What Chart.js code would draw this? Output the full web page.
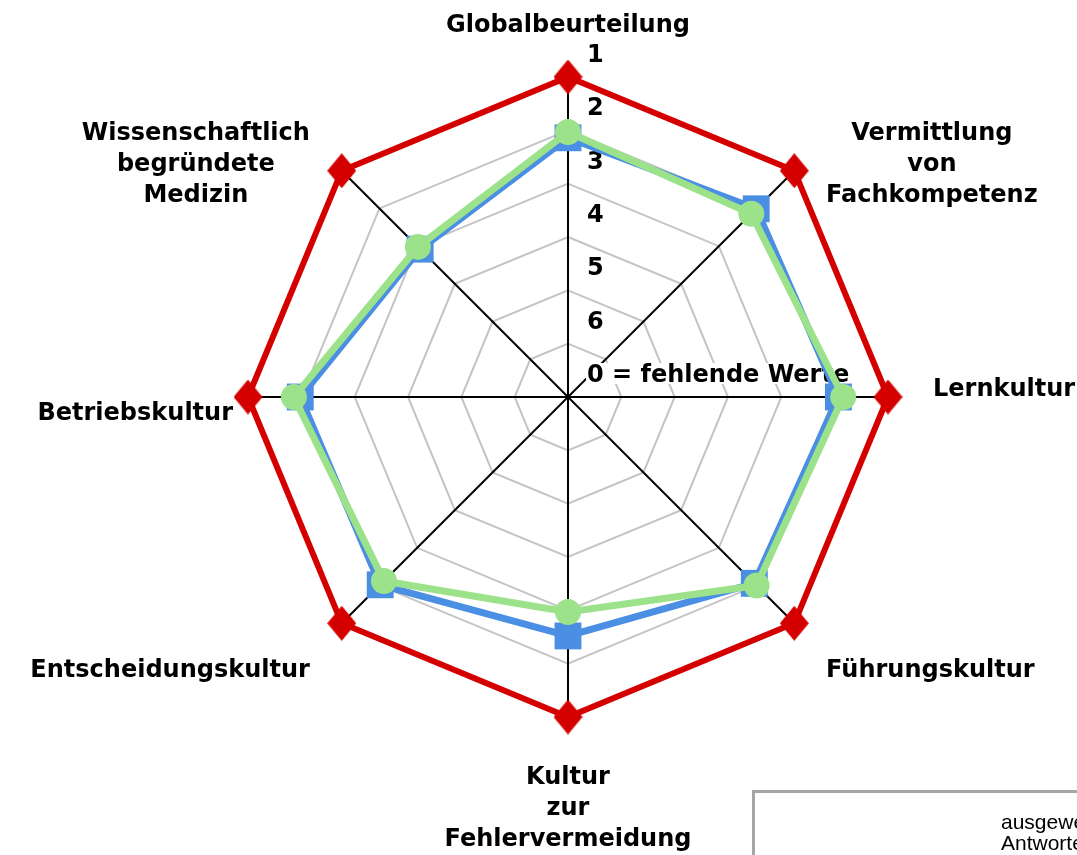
<!DOCTYPE html>
<html lang="de">
<head>
    <meta charset="UTF-8">
    <title>Netzdiagramm</title>
    <script src="https://cdn.jsdelivr.net/npm/chart.js"></script>
    <style>
        html, body { margin: 0; padding: 0; background: #fff; overflow: hidden; }
        #wrap { position: relative; width: 1077px; height: 855px; }
        #legendBox {
            position: absolute; left: 752px; top: 790px; width: 400px; height: 120px;
            border: 3px solid #a6a6a6; box-sizing: border-box;
        }
        #legendText {
            position: absolute; left: 1001px; top: 811px;
            font-family: 'Liberation Sans', Arial, sans-serif; font-size: 21px; line-height: 21px;
            color: #000; white-space: nowrap;
        }
    </style>
</head>
<body>
<div id="wrap">
    <canvas id="radar" width="1077" height="855"></canvas>
    <div id="legendBox"></div>
    <div id="legendText">ausgewertete<br>Antworten</div>
</div>

<script>
    // Achsen (Kategorien)
    const categories = [
        'Globalbeurteilung',
        ['Vermittlung', 'von', 'Fachkompetenz'],
        'Lernkultur',
        'Führungskultur',
        ['Kultur', 'zur', 'Fehlervermeidung'],
        'Entscheidungskultur',
        'Betriebskultur',
        ['Wissenschaftlich', 'begründete', 'Medizin']
    ];

    // Werte (Notenskala 1 = aussen, 7 = Mitte / fehlende Werte)
    const bestValues = [1, 1, 1, 1, 1, 1, 1, 1];
    const blueValues = [2.14, 2.01, 1.93, 2.06, 2.52, 2.02, 1.98, 3.08];
    const greenValues = [2.03, 2.14, 1.84, 2.00, 2.97, 2.12, 1.86, 3.02];

    // Skalenbeschriftung fuer die Werte 1..7
    const tickValues = [1, 2, 3, 4, 5, 6, 7];
    const tickLabels = ['1', '2', '3', '4', '5', '6', '0 = fehlende Werte'];

    const FONT = 'bold 24px "DejaVu Sans", sans-serif';

    // Raute als Punktsymbol (etwas hoeher als breit)
    function makeDiamond(w, h, color) {
        const c = document.createElement('canvas');
        c.width = w; c.height = h;
        const g = c.getContext('2d');
        g.fillStyle = color;
        g.beginPath();
        g.moveTo(w / 2, 0);
        g.lineTo(w, h / 2);
        g.lineTo(w / 2, h);
        g.lineTo(0, h / 2);
        g.closePath();
        g.fill();
        return c;
    }

    // Platzierung der Achsentitel relativ zum Punkt ausserhalb des Netzes
    const labelPlacement = [
        { align: 'center', dx: 0,  dy: 0 },
        { align: 'left',   dx: 0,  dy: 1 },
        { align: 'left',   dx: 0,  dy: -1 },
        { align: 'left',   dx: 0,  dy: 22 },
        { align: 'center', dx: 0,  dy: 22 },
        { align: 'right',  dx: 0,  dy: 22 },
        { align: 'right',  dx: 30, dy: 23 },
        { align: 'right',  dx: 0,  dy: 1 }
    ];

    const radarText = {
        id: 'radarText',
        beforeDatasetsDraw(chart) {
            const ctx = chart.ctx;
            const r = chart.scales.r;
            ctx.save();
            ctx.font = 'bold 24px "DejaVu Sans", sans-serif';
            ctx.textAlign = 'left';
            ctx.textBaseline = 'alphabetic';
            tickValues.forEach((v, i) => {
                const x = r.xCenter + 19;
                const y = r.yCenter - r.getDistanceFromCenterForValue(v) - 15;
                const w = ctx.measureText(tickLabels[i]).width;
                ctx.fillStyle = '#fff';
                ctx.fillRect(x - 1, y - 19, w + 2, 21);
                ctx.fillStyle = '#000';
                ctx.fillText(tickLabels[i], x, y);
            });

            ctx.font = FONT;
            ctx.textAlign = 'center';
            const lineH = 31;
            categories.forEach((lab, i) => {
                const lines = Array.isArray(lab) ? lab : [lab];
                const p = r.getPointPosition(i, r.drawingArea + 45);
                const pl = labelPlacement[i];
                const bw = Math.max(...lines.map(t => ctx.measureText(t).width));
                let cx = p.x + pl.dx;
                if (pl.align === 'left') cx += bw / 2;
                if (pl.align === 'right') cx -= bw / 2;
                const y0 = p.y + pl.dy;
                lines.forEach((t, k) => {
                    ctx.fillStyle = '#000';
                    ctx.fillText(t, cx, y0 + k * lineH);
                });
            });
            ctx.restore();
        }
    };

    new Chart(document.getElementById('radar'), {
        type: 'radar',
        data: {
            labels: categories,
            datasets: [
                {
                    label: 'Gruppe 2',
                    data: greenValues,
                    borderColor: '#9ce28b',
                    backgroundColor: '#9ce28b',
                    borderWidth: 7,
                    pointStyle: 'circle',
                    pointRadius: 13,
                    pointBorderWidth: 0,
                    pointBackgroundColor: '#9ce28b',
                    fill: false,
                    clip: false
                },
                {
                    label: 'Gruppe 1',
                    data: blueValues,
                    borderColor: '#4a8fe3',
                    backgroundColor: '#4a8fe3',
                    borderWidth: 7,
                    pointStyle: 'rect',
                    pointRadius: 19,
                    pointBorderWidth: 0,
                    pointBackgroundColor: '#4a8fe3',
                    fill: false,
                    clip: false
                },
                {
                    label: 'Bestwert',
                    data: bestValues,
                    borderColor: '#d40000',
                    backgroundColor: '#d40000',
                    borderWidth: 6,
                    pointStyle: makeDiamond(29, 35, '#d40000'),
                    pointRadius: 15,
                    pointBorderWidth: 0,
                    fill: false,
                    clip: false
                }
            ]
        },
        options: {
            responsive: false,
            animation: false,
            layout: { padding: { left: 248, right: 189, top: 77, bottom: 138 } },
            plugins: {
                legend: { display: false },
                tooltip: { enabled: false }
            },
            elements: { line: { tension: 0 } },
            scales: {
                r: {
                    min: 1,
                    max: 7,
                    reverse: true,
                    ticks: { display: false, stepSize: 1 },
                    pointLabels: { display: false },
                    grid: { color: '#c4c4c4', lineWidth: 2 },
                    angleLines: { color: '#000', lineWidth: 2 }
                }
            }
        },
        plugins: [radarText]
    });
</script>
</body>
</html>
